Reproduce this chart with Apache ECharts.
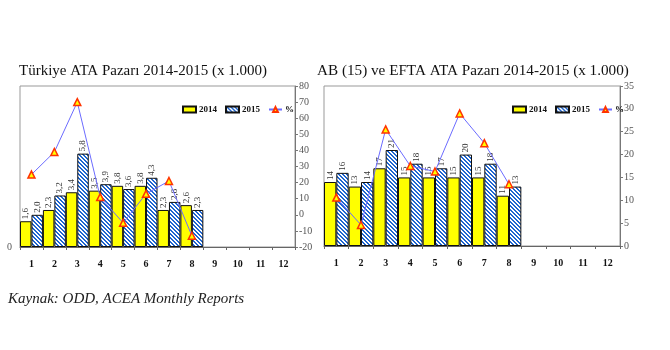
<!DOCTYPE html>
<html>
<head>
<meta charset="utf-8">
<script src="https://cdn.jsdelivr.net/npm/echarts@6/dist/echarts.min.js"></script>
<style>
  html, body { margin: 0; padding: 0; background: #fff; }
  #chart { width: 670px; height: 350px; }
</style>
</head>
<body>
<div id="chart"></div>
<script>
// months 1..12, data only for 1..8
const months = ['1', '2', '3', '4', '5', '6', '7', '8', '9', '10', '11', '12']

// Türkiye ATA (x 1.000)
const trSales2014 = [1.6, 2.3, 3.4, 3.5, 3.8, 3.8, 2.3, 2.6]
const trSales2015 = [2.0, 3.2, 5.8, 3.9, 3.6, 4.3, 2.8, 2.3]
const trChangePct = [25, 39, 70, 11, -5, 13, 21, -13]

// AB (15) + EFTA ATA (x 1.000)
const euSales2014 = [14, 13, 17, 15, 15, 15, 15, 11]
const euSales2015 = [16, 14, 21, 18, 17, 20, 18, 13]
const euChangePct = [10.6, 4.6, 25.5, 17.5, 16.3, 29, 22.5, 13.5]

const SERIF = '"Liberation Serif", "DejaVu Serif", serif'
const YELLOW = '#ffff00'
const BLUE = '#1f66d0'
const LINE = '#6b6bff'

// hatch fill for 2015 bars — blue "\" stripes on white, drawn per pixel
function makeHatch() {
  const s = 4
  const c = document.createElement('canvas')
  c.width = s
  c.height = s
  const ctx = c.getContext('2d')
  ctx.fillStyle = '#fff'
  ctx.fillRect(0, 0, s, s)
  ctx.fillStyle = BLUE
  for (let y = 0; y < s; y++) {
    for (let x = 0; x < s; x++) {
      const d = ((x - y) % s + s) % s
      if (d < 2) ctx.fillRect(x, y, 1, 1)
    }
  }
  return c
}
const hatch = { image: makeHatch(), repeat: 'repeat' }

const fmtComma = (p) => p.value.toFixed(1).replace('.', ',')
const fmtInt = (p) => String(p.value)

function barLabel(formatter) {
  return {
    show: true,
    position: 'top',
    rotate: 90,
    align: 'left',
    verticalAlign: 'middle',
    distance: 2,
    fontFamily: SERIF,
    fontSize: 9,
    color: '#333',
    formatter,
  }
}

function catAxis(gridIndex) {
  return {
    type: 'category',
    gridIndex,
    data: months,
    axisLine: { lineStyle: { color: '#666' } },
    axisTick: { show: true, length: 3, lineStyle: { color: '#666' } },
    axisLabel: {
      margin: 12,
      fontFamily: SERIF,
      fontSize: 10,
      fontWeight: 'bold',
      color: '#111',
    },
  }
}

function rightAxis(gridIndex, min, max, interval) {
  return {
    type: 'value',
    gridIndex,
    position: 'right',
    min, max, interval,
    axisLine: { show: true, lineStyle: { color: '#777' } },
    axisTick: { show: true, length: 3, lineStyle: { color: '#777' } },
    axisLabel: { fontFamily: SERIF, fontSize: 10, color: '#555', margin: 4 },
    splitLine: { show: false },
  }
}

function legend(left) {
  return {
    left, top: 100,
    itemWidth: 13, itemHeight: 6, itemGap: 8,
    textStyle: { fontFamily: SERIF, fontSize: 9, fontWeight: 'bold', color: '#111', padding: [0, 0, 0, -2] },
    data: [
      { name: '2014', icon: 'rect' },
      { name: '2015', icon: 'rect' },
      { name: '%' },
    ],
  }
}

function barSeries(name, data, x, y, color, fmt) {
  return {
    name, type: 'bar', xAxisIndex: x, yAxisIndex: y,
    data,
    barGap: '0%', barCategoryGap: '0%',
    itemStyle: { color, borderColor: '#111', borderWidth: 1 },
    label: barLabel(fmt),
    emphasis: { disabled: true },
  }
}

function pctSeries(data, x, y) {
  return {
    name: '%', type: 'line', xAxisIndex: x, yAxisIndex: y,
    data,
    symbol: 'triangle', symbolSize: 7,
    lineStyle: { color: LINE, width: 1 },
    itemStyle: { color: YELLOW, borderColor: '#ff3300', borderWidth: 1.5 },
    z: 5,
  }
}

const chart = echarts.init(document.getElementById('chart'), null, { renderer: 'canvas' })

chart.setOption({
  animation: false,
  title: [
    { text: 'Türkiye ATA Pazarı 2014-2015 (x 1.000)', left: 14, top: 59,
      textStyle: { fontFamily: SERIF, fontSize: 15, fontWeight: 'normal', color: '#111' } },
    { text: 'AB (15) ve EFTA ATA Pazarı 2014-2015 (x 1.000)', left: 312, top: 59,
      textStyle: { fontFamily: SERIF, fontSize: 15.2, fontWeight: 'normal', color: '#111' } },
  ],
  graphic: [
    { type: 'text', left: 8, top: 292,
      style: { text: 'Kaynak: ODD, ACEA Monthly Reports', fontFamily: SERIF, fontSize: 15,
        fontStyle: 'italic', fill: '#222' } },
  ],
  legend: [
    Object.assign(legend(177), { id: 'l0' }),
    Object.assign(legend(507), { id: 'l1' }),
  ],
  grid: [
    { left: 20, top: 86, width: 275, height: 161, show: true, borderColor: '#999', borderWidth: 1 },
    { left: 324, top: 86, width: 296, height: 160, show: true, borderColor: '#999', borderWidth: 1 },
  ],
  xAxis: [catAxis(0), catAxis(1)],
  yAxis: [
    {
      type: 'value', gridIndex: 0, position: 'left', min: 0, max: 10, interval: 10,
      axisLine: { show: false }, axisTick: { show: false }, splitLine: { show: false },
      axisLabel: { fontFamily: SERIF, fontSize: 10, color: '#555', margin: 8,
        formatter: (v) => (v === 0 ? '0' : '') },
    },
    rightAxis(0, -20, 80, 10),
    {
      type: 'value', gridIndex: 1, position: 'left', min: 0, max: 35, interval: 5,
      axisLine: { show: false }, axisTick: { show: false }, splitLine: { show: false },
      axisLabel: { show: false },
    },
    rightAxis(1, 0, 35, 5),
  ],
  series: [
    barSeries('2014', trSales2014, 0, 0, YELLOW, fmtComma),
    barSeries('2015', trSales2015, 0, 0, hatch, fmtComma),
    pctSeries(trChangePct, 0, 1),
    barSeries('2014', euSales2014, 1, 2, YELLOW, fmtInt),
    barSeries('2015', euSales2015, 1, 2, hatch, fmtInt),
    pctSeries(euChangePct, 1, 3),
  ],
})
</script>
</body>
</html>
